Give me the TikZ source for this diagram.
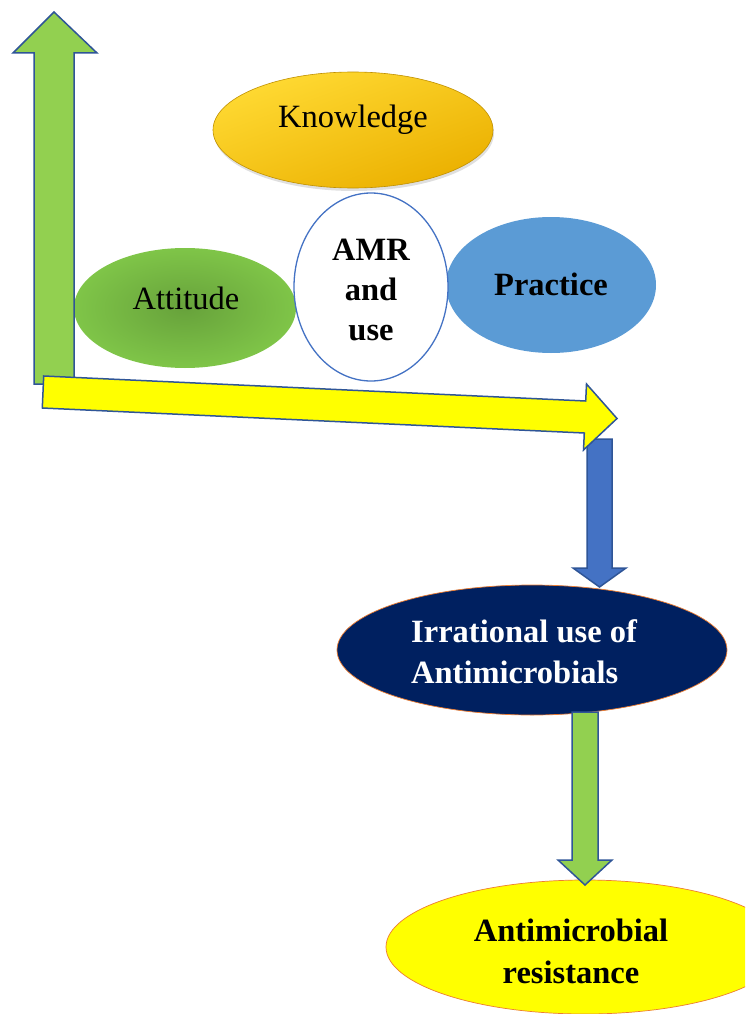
\documentclass[tikz,border=0pt]{standalone}
\usepackage{fontspec}
\setmainfont{Liberation Serif}
\usetikzlibrary{shapes.geometric,shadows}
\definecolor{arrgreen}{HTML}{92D050}
\definecolor{arrline}{HTML}{2F5597}
\definecolor{arrblue}{HTML}{4472C4}
\definecolor{yel}{HTML}{FFFF00}
\definecolor{navy}{HTML}{002060}
\definecolor{orng}{HTML}{ED7D31}
\definecolor{pract}{HTML}{5B9BD5}
\definecolor{goldA}{HTML}{FFDA33}
\definecolor{goldB}{HTML}{EBB000}
\definecolor{goldline}{HTML}{C09000}
\definecolor{attin}{HTML}{67A23B}
\definecolor{attout}{HTML}{7FC548}
\definecolor{amrline}{HTML}{4472C4}
\begin{document}
\begin{tikzpicture}[x=1pt,y=-1pt,
  oval/.style={ellipse, inner sep=0pt},
  txt/.style={inner sep=0pt, align=center, font=\fontsize{32.5}{40}\selectfont},
  boldtxt/.style={inner sep=0pt, align=center, font=\fontsize{32.5}{40}\selectfont\bfseries},
  blockarrow/.style={draw=arrline, line width=1.5pt, line join=miter}]
\useasboundingbox (0,0) rectangle (745,1014);
\clip (0,0) rectangle (745,1014);
\fill[white] (0,0) rectangle (745,1014);

% upper cluster
\node[oval, minimum width=280pt, minimum height=116pt, draw=goldline, line width=0.6pt,
      top color=goldA, bottom color=goldB, shading angle=20,
      drop shadow={opacity=0.25, shadow xshift=1pt, shadow yshift=-3pt}] (know) at (353,130) {};
\node[oval, minimum width=222pt, minimum height=120pt, inner color=attin, outer color=attout] (att) at (185,308) {};
\node[oval, minimum width=210pt, minimum height=136pt, fill=pract] (prac) at (551,285) {};
\node[oval, minimum width=154pt, minimum height=188pt, fill=white, draw=amrline, line width=1.3pt] (amr) at (371,287) {};

\node[txt] (knowt) at ([yshift=10pt]know.center) {Knowledge};
\node[txt] (attt) at ([xshift=1pt,yshift=10pt]att.center) {Attitude};
\node[boldtxt] (amrt) at ([yshift=-3pt]amr.center) {AMR\\and\\use};
\node[boldtxt] (pract) at ([yshift=1pt]prac.center) {Practice};

% lower ellipses
\node[oval, minimum width=390pt, minimum height=130pt, fill=navy, draw=orng, line width=0.7pt] (irr) at (532,650) {};
\node[boldtxt, align=left, anchor=west, text=white, font=\fontsize{32.5}{41}\selectfont\bfseries] (irrt) at (411,652) {Irrational use of\\Antimicrobials};
\node[oval, minimum width=398pt, minimum height=134pt, fill=yel, draw=orng, line width=0.7pt] (amres) at (585,947) {};
\node[boldtxt, font=\fontsize{32.5}{42}\selectfont\bfseries] (amrest) at ([xshift=-14pt,yshift=-4pt]amres.center) {Antimicrobial\\resistance};

% block arrows
\draw[blockarrow, fill=arrgreen] (34,384) -- (34,53) -- (13,53) -- (54,12) -- (97,53) -- (74,53) -- (74,384) -- cycle;
\draw[blockarrow, fill=arrblue] (587,439) -- (587,568) -- (573,568) -- (599.5,587) -- (626,568) -- (612,568) -- (612,439) -- cycle;
\draw[blockarrow, fill=yel] (43.7,376) -- (585.7,401) -- (586.5,384) -- (617,418.5) -- (583.5,450) -- (584.3,433) -- (42.3,408) -- cycle;
\draw[blockarrow, fill=arrgreen] (572,712) -- (572,860) -- (558,860) -- (585,885) -- (612,860) -- (598,860) -- (598,712) -- cycle;
\end{tikzpicture}
\end{document}
